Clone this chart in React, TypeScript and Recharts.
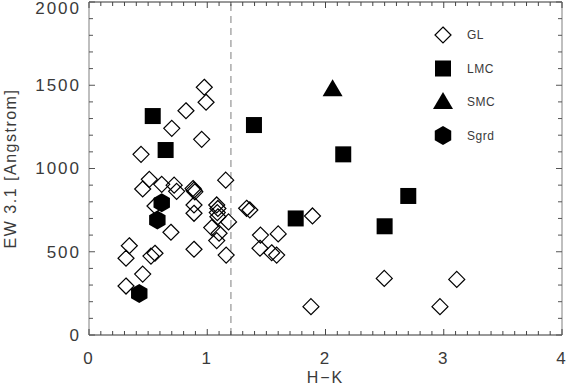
import React from 'react';
import { ScatterChart, Scatter, XAxis, YAxis, ReferenceLine } from 'recharts';

// H-K colour vs EW 3.1 micron band
const glHK = [0.975, 0.99, 0.82, 0.7, 0.953, 0.44, 1.156, 0.51, 0.615, 0.72, 0.454, 0.741, 0.88, 0.888, 0.895, 0.558, 0.888, 0.888, 0.693, 1.08, 1.09, 1.085, 1.09, 1.18, 1.038, 1.1, 1.08, 0.888, 1.16, 0.341, 0.313, 0.524, 0.558, 0.454, 0.313, 1.333, 1.36, 1.45, 1.6, 1.446, 1.545, 1.587, 1.89, 2.497, 1.877, 2.968, 3.11];
const glEW = [1488, 1398, 1347, 1241, 1175, 1085, 930, 935, 905, 900, 877, 863, 880, 870, 860, 775, 781, 731, 617, 781, 760, 735, 710, 679, 645, 611, 567, 515, 480, 536, 461, 474, 491, 366, 294, 761, 751, 600, 607, 521, 494, 480, 715, 340, 170, 170, 334];

const lmcHK = [0.539, 0.648, 1.395, 1.748, 2.15, 2.7, 2.5];
const lmcEW = [1315, 1111, 1261, 700, 1085, 835, 653];

const smcHK = [2.06];
const smcEW = [1476];

const sgrdHK = [0.615, 0.578, 0.425];
const sgrdEW = [795, 691, 250];

// major ticks carry labels, minor ticks every 0.1 / 100
const xMajor = [0, 1, 2, 3, 4];
const yMajor = [0, 500, 1000, 1500, 2000];
const xTicks = Array.from({ length: 41 }, (_, i) => i / 10);
const yTicks = Array.from({ length: 21 }, (_, i) => i * 100);

const zip = (xs: number[], ys: number[]) => xs.map((x, i) => ({ hk: x, ew: ys[i] }));

const FONT = 'Liberation Sans, Arial, sans-serif';
const TXT = '#3a3a3a';

const Diamond = ({ cx, cy }: any) => (
  <path d={`M${cx},${cy - 8}L${cx + 8},${cy}L${cx},${cy + 8}L${cx - 8},${cy}Z`} fill="none" stroke="#000" strokeWidth={1.2} />
);
const Square = ({ cx, cy }: any) => <rect x={cx - 8} y={cy - 8} width={16} height={16} fill="#000" />;
const Triangle = ({ cx, cy }: any) => (
  <path d={`M${cx},${cy - 10}L${cx + 10},${cy + 7}L${cx - 10},${cy + 7}Z`} fill="#000" />
);
const Hexagon = ({ cx, cy }: any) => {
  const r = 9.5;
  const pts = [0, 1, 2, 3, 4, 5].map((k) => {
    const a = (Math.PI / 3) * k - Math.PI / 2;
    return `${cx + r * Math.cos(a)},${cy + r * Math.sin(a)}`;
  });
  return <polygon points={pts.join(' ')} fill="#000" />;
};

const legendItems = [
  { name: 'GL', Shape: Diamond },
  { name: 'LMC', Shape: Square },
  { name: 'SMC', Shape: Triangle },
  { name: 'Sgrd', Shape: Hexagon },
];

const LegendBox = () => (
  <svg width={80} height={125} style={{ display: 'block' }}>
    {legendItems.map((it, i) => (
      <g key={it.name}>
        <it.Shape cx={10} cy={12 + i * 33.5} />
        <text x={34} y={12 + i * 33.5} dy="0.35em" fontSize={12} fill={TXT} fontFamily={FONT} letterSpacing={0.5}>
          {it.name}
        </text>
      </g>
    ))}
  </svg>
);

const isXMajor = (v: number) => xMajor.some((m) => Math.abs(v - m) < 1e-6);

const BottomTick = ({ x, y, payload }: any) => {
  const major = isXMajor(payload.value);
  return (
    <g>
      <line x1={x} x2={x} y1={y} y2={y - (major ? 6 : 4)} stroke="#444" />
      {major && (
        <text x={x} y={y + 23} dy="0.35em" textAnchor="middle" fontSize={17} fill={TXT} fontFamily={FONT} letterSpacing={2}>
          {Math.round(payload.value)}
        </text>
      )}
    </g>
  );
};
const TopTick = ({ x, y, payload }: any) => {
  const major = isXMajor(payload.value);
  return <line x1={x} x2={x} y1={y} y2={y + (major ? 6 : 4)} stroke="#444" />;
};
const LeftTick = ({ x, y, payload }: any) => {
  const major = yMajor.includes(payload.value);
  return (
    <g>
      <line x1={x} x2={x + (major ? 6 : 4)} y1={y} y2={y} stroke="#555" />
      {major && (
        <text x={x - 8} y={Math.max(y, 8)} dy="0.35em" textAnchor="end" fontSize={17} fill={TXT} fontFamily={FONT} letterSpacing={2}>
          {payload.value}
        </text>
      )}
    </g>
  );
};
const RightTick = ({ x, y, payload }: any) => {
  const major = yMajor.includes(payload.value);
  return <line x1={x} x2={x - (major ? 6 : 4)} y1={y} y2={y} stroke="#555" />;
};

export default function App() {
  return (
    <div style={{ position: 'absolute', left: 0, top: 0, width: 567, height: 389, background: '#fff' }}>
      <ScatterChart width={567} height={389} margin={{ top: 0, right: 0, bottom: 0, left: 0 }}>
        <XAxis
          xAxisId="b"
          type="number"
          dataKey="hk"
          domain={[0, 4]}
          ticks={xTicks}
          interval={0}
          orientation="bottom"
          height={54}
          tickSize={0}
          tickMargin={0}
          tickLine={false}
          tick={<BottomTick />}
          axisLine={{ stroke: '#333' }}
          allowDataOverflow
          label={{ value: 'H\u2212K', position: 'insideBottom', offset: 6, fontSize: 16, fill: TXT, fontFamily: FONT, letterSpacing: 2 }}
        />
        <XAxis
          xAxisId="t"
          type="number"
          dataKey="hk"
          domain={[0, 4]}
          ticks={xTicks}
          interval={0}
          orientation="top"
          height={2}
          tickSize={0}
          tickMargin={0}
          tickLine={false}
          tick={<TopTick />}
          axisLine={{ stroke: '#333' }}
          allowDataOverflow
        />
        <YAxis
          yAxisId="l"
          type="number"
          dataKey="ew"
          domain={[0, 2000]}
          ticks={yTicks}
          interval={0}
          orientation="left"
          width={89}
          tickSize={0}
          tickMargin={0}
          tickLine={false}
          tick={<LeftTick />}
          axisLine={{ stroke: '#aaa', strokeWidth: 1.5 }}
          allowDataOverflow
          label={{ value: 'EW 3.1 [Angstrom]', angle: -90, position: 'insideLeft', offset: 10, fontSize: 16, fill: TXT, fontFamily: FONT, letterSpacing: 1.5, style: { textAnchor: 'middle' } }}
        />
        <YAxis
          yAxisId="r"
          type="number"
          dataKey="ew"
          domain={[0, 2000]}
          ticks={yTicks}
          interval={0}
          orientation="right"
          width={5}
          tickSize={0}
          tickMargin={0}
          tickLine={false}
          tick={<RightTick />}
          axisLine={{ stroke: '#aaa', strokeWidth: 1.5 }}
          allowDataOverflow
        />
        <ReferenceLine xAxisId="b" yAxisId="l" x={1.2} stroke="#aaa" strokeWidth={1.5} strokeDasharray="7 5" />
        <Scatter xAxisId="b" yAxisId="l" name="GL" data={zip(glHK, glEW)} shape={<Diamond />} isAnimationActive={false} />
        <Scatter xAxisId="b" yAxisId="l" name="LMC" data={zip(lmcHK, lmcEW)} shape={<Square />} isAnimationActive={false} />
        <Scatter xAxisId="b" yAxisId="l" name="SMC" data={zip(smcHK, smcEW)} shape={<Triangle />} isAnimationActive={false} />
        <Scatter xAxisId="b" yAxisId="l" name="Sgrd" data={zip(sgrdHK, sgrdEW)} shape={<Hexagon />} isAnimationActive={false} />
        <Scatter xAxisId="t" yAxisId="r" data={[]} isAnimationActive={false} />
      </ScatterChart>
      <div style={{ position: 'absolute', left: 433, top: 23 }}>
        <LegendBox />
      </div>
    </div>
  );
}
